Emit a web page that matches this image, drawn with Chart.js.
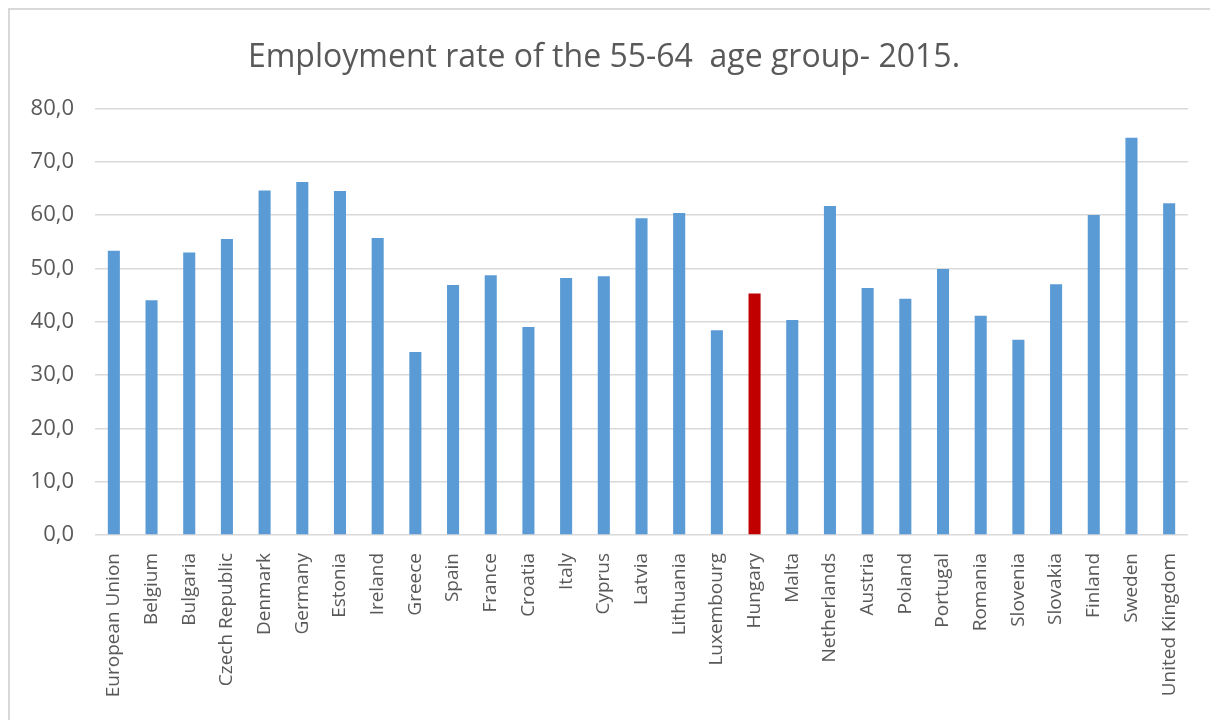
<!DOCTYPE html>
<html>
<head>
<meta charset="utf-8">
<script src="https://cdn.jsdelivr.net/npm/chart.js@4/dist/chart.umd.min.js"></script>
<style>
  html, body { margin: 0; padding: 0; background: #fff; }
  #wrap { position: relative; width: 1210px; height: 720px; overflow: hidden; }
  #frame { position: absolute; left: 8px; top: 8px; width: 1300px; height: 800px; border: 2px solid #d9d9d9; box-sizing: border-box; }
  canvas { position: absolute; left: 0; top: 0; }
</style>
</head>
<body>
<div id="wrap">
  <div id="frame"></div>
  <canvas id="chart" width="1210" height="720"></canvas>
</div>
<script>
const countries = ["European Union", "Belgium", "Bulgaria", "Czech Republic", "Denmark", "Germany", "Estonia", "Ireland", "Greece", "Spain", "France", "Croatia", "Italy", "Cyprus", "Latvia", "Lithuania", "Luxembourg", "Hungary", "Malta", "Netherlands", "Austria", "Poland", "Portugal", "Romania", "Slovenia", "Slovakia", "Finland", "Sweden", "United Kingdom"];
const rates = [53.3, 44.0, 53.0, 55.5, 64.6, 66.2, 64.5, 55.7, 34.3, 46.9, 48.7, 39.0, 48.2, 48.5, 59.4, 60.4, 38.4, 45.3, 40.3, 61.7, 46.3, 44.3, 49.9, 41.1, 36.6, 47.0, 60.0, 74.5, 62.2];
const highlight = "Hungary";
const yTicks = [0, 10, 20, 30, 40, 50, 60, 70, 80];

const blue = "#5b9bd5";
const red = "#c00000";
const grey = "#595959";
const gridGrey = "#d9d9d9";
const font = "'Open Sans', sans-serif";

new Chart(document.getElementById("chart").getContext("2d"), {
  type: "bar",
  data: {
    labels: countries,
    datasets: [{
      data: rates,
      backgroundColor: countries.map((c) => (c === highlight ? red : blue)),
      categoryPercentage: 1,
      barPercentage: 0.32,
    }],
  },
  options: {
    responsive: false,
    animation: false,
    layout: { padding: { left: 20, right: 22, top: 0, bottom: 0 } },
    plugins: {
      legend: { display: false },
      tooltip: { enabled: false },
      title: {
        display: true,
        text: "Employment rate of the 55-64  age group- 2015.",
        color: grey,
        font: { family: font, size: 32, weight: "normal" },
        padding: { top: 39, bottom: 31 },
      },
    },
    scales: {
      y: {
        min: 0,
        max: 80,
        afterBuildTicks: (s) => { s.ticks = yTicks.map((v) => ({ value: v })); },
        afterFit: (s) => { s.width = 75; },
        border: { display: false },
        grid: { color: gridGrey, lineWidth: 1.5, drawTicks: false },
        ticks: {
          color: grey,
          padding: 21,
          font: { family: font, size: 22 },
          callback: (v) => v.toFixed(1).replace(".", ","),
        },
      },
      x: {
        afterFit: (s) => { s.height = 185; },
        border: { display: false },
        grid: { display: false },
        ticks: {
          color: grey,
          minRotation: 90,
          maxRotation: 90,
          autoSkip: false,
          padding: 10,
          font: { family: font, size: 19 },
        },
      },
    },
  },
});
</script>
</body>
</html>
